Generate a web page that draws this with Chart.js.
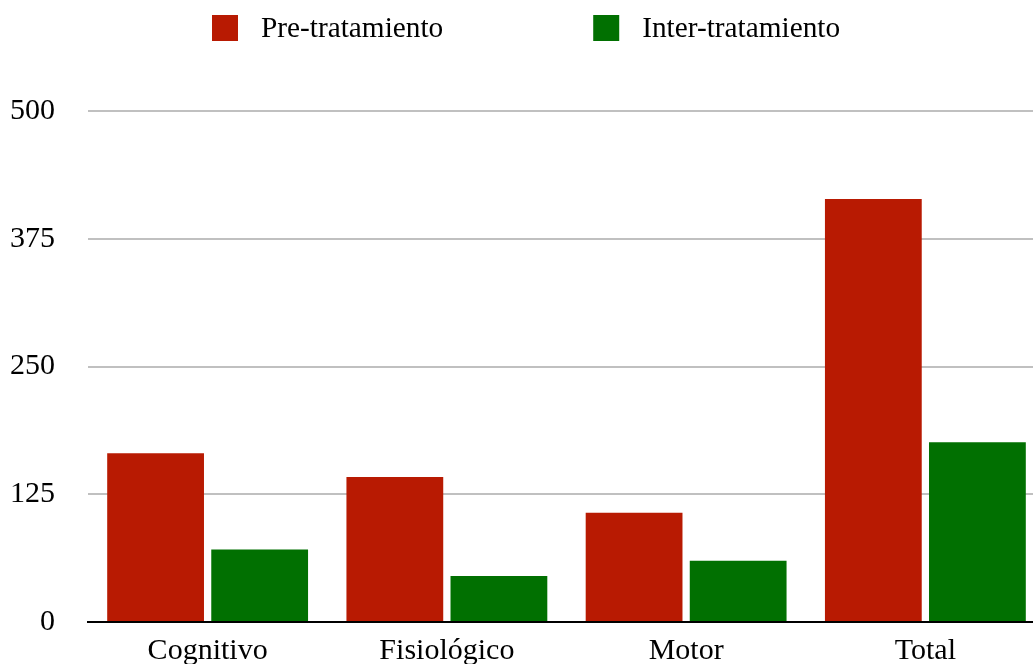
<!DOCTYPE html>
<html>
<head>
<meta charset="utf-8">
<script src="https://cdn.jsdelivr.net/npm/chart.js@4/dist/chart.umd.min.js"></script>
<style>
  html, body { margin: 0; padding: 0; background: #fff; overflow: hidden; }
  #wrap { position: relative; width: 1046px; height: 664px; }
</style>
</head>
<body>
<div id="wrap"><canvas id="c" width="1046" height="664"></canvas></div>
<script>
// Categories and series values
const categories = ['Cognitivo', 'Fisiológico', 'Motor', 'Total'];
const preTratamiento = [165, 142, 107, 414];
const interTratamiento = [71, 45, 60, 176];
const seriesNames = ['Pre-tratamiento', 'Inter-tratamiento'];
const seriesColors = ['#b81a02', '#017001'];
// Value axis ticks
const yTicks = [0, 125, 250, 375, 500];

const FONT_FAMILY = '"Liberation Serif", "Times New Roman", serif';
const TEXT_COLOR = '#000';

// Legend drawn across the top, with a wider gap between swatch and label
const topLegend = {
  id: 'topLegend',
  afterDraw(chart) {
    const ctx = chart.ctx;
    ctx.save();
    ctx.font = '29.3px ' + FONT_FAMILY;
    const box = 26, gapText = 23, gapItem = 150;
    const widths = chart.data.datasets.map(d => box + gapText + ctx.measureText(d.label).width);
    const total = widths.reduce((a, b) => a + b, 0) + gapItem * (widths.length - 1);
    let x = Math.round(526 - total / 2);
    chart.data.datasets.forEach((d, i) => {
      ctx.fillStyle = d.backgroundColor;
      ctx.fillRect(x, 15, box, box);
      ctx.fillStyle = TEXT_COLOR;
      ctx.textBaseline = 'alphabetic';
      ctx.textAlign = 'left';
      ctx.fillText(d.label, x + box + gapText, 37);
      x += widths[i] + gapItem;
    });
    ctx.restore();
  }
};

new Chart(document.getElementById('c'), {
  type: 'bar',
  data: {
    labels: categories,
    datasets: [
      { label: seriesNames[0], data: preTratamiento, backgroundColor: seriesColors[0] },
      { label: seriesNames[1], data: interTratamiento, backgroundColor: seriesColors[1] }
    ]
  },
  options: {
    responsive: false,
    animation: false,
    devicePixelRatio: 1,
    layout: { padding: { top: 111, right: 1, left: 0, bottom: 0 } },
    datasets: {
      bar: { categoryPercentage: 0.87, barPercentage: 0.93, borderWidth: 0 }
    },
    plugins: {
      legend: { display: false },
      tooltip: { enabled: false }
    },
    scales: {
      x: {
        grid: { display: false, drawTicks: false },
        border: { display: true, color: '#000', width: 2 },
        ticks: {
          color: TEXT_COLOR,
          padding: 11,
          font: { family: FONT_FAMILY, size: 30 }
        },
        afterFit(scale) { scale.height = 42; }
      },
      y: {
        min: yTicks[0],
        max: yTicks[yTicks.length - 1],
        afterBuildTicks(scale) { scale.ticks = yTicks.map(v => ({ value: v })); },
        grid: { color: '#c0c0c0', lineWidth: 2, drawTicks: false },
        border: { display: false },
        ticks: {
          color: TEXT_COLOR,
          padding: 33,
          font: { family: FONT_FAMILY, size: 30 }
        },
        afterFit(scale) {
          scale.width = 88;
          // only the half label height is needed above/below the plot
          scale.paddingTop = 18;
          scale.paddingBottom = 18;
        }
      }
    }
  },
  plugins: [topLegend]
});
</script>
</body>
</html>
